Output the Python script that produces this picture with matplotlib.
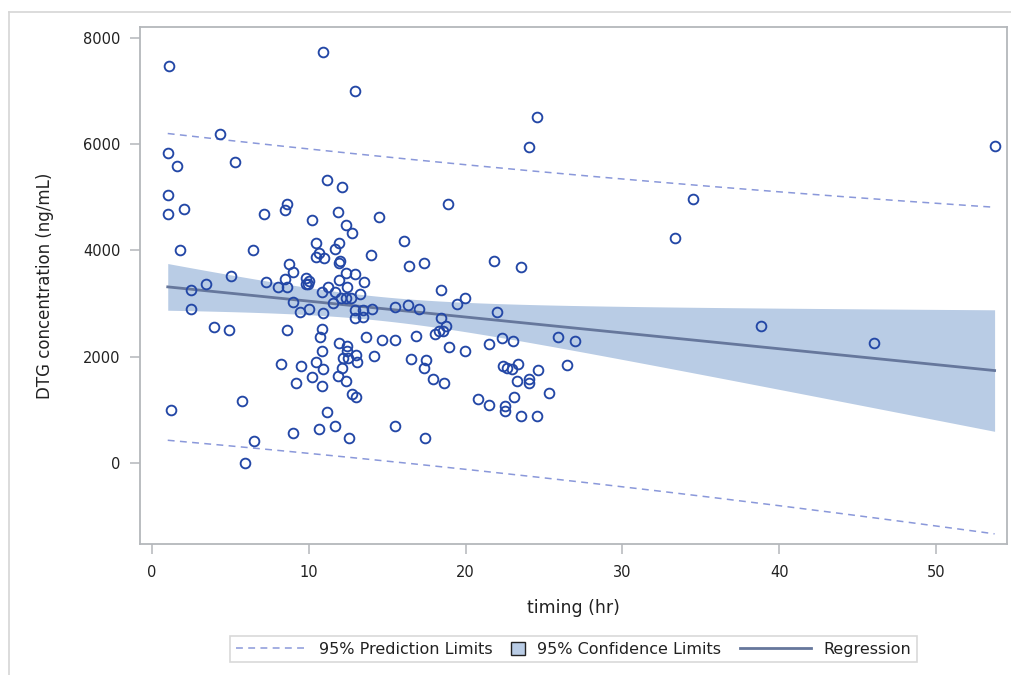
import numpy as np
import matplotlib
matplotlib.use("Agg")
import matplotlib.pyplot as plt
import matplotlib.patches as mpatches
from matplotlib.lines import Line2D
from matplotlib.legend_handler import HandlerPatch

# ---------------- data ----------------
timing_hr = [
    1.12, 10.94, 12.98, 4.35, 1.02, 1.63, 5.29, 11.15, 12.15, 1.02,
    1.02, 2.04, 7.18, 8.60, 8.51, 10.22, 11.85, 12.38, 12.77, 14.49,
    1.80, 6.47, 10.45, 11.96, 11.66, 10.66, 10.45, 10.96, 12.02, 11.96,
    13.98, 8.75, 9.02, 5.07, 3.46, 2.52, 7.30, 8.51, 8.07, 8.62,
    9.81, 10.02, 9.96, 9.81, 10.87, 11.25, 11.96, 12.38, 12.98, 12.47,
    13.51, 11.70, 13.28, 12.08, 12.38, 12.70, 11.57, 9.02, 2.50, 9.45,
    10.04, 10.94, 12.96, 13.49, 12.96, 13.49, 14.06, 15.51, 3.97, 4.95,
    8.62, 10.83, 10.74, 11.96, 12.47, 13.68, 14.70, 15.51, 10.83, 12.47,
    12.21, 12.53, 13.00, 13.08, 14.19, 8.22, 9.53, 10.45, 10.94, 12.15,
    10.22, 11.87, 12.36, 9.22, 10.83, 12.77, 13.02, 5.77, 1.21, 11.15,
    11.66, 10.66, 9.02, 12.57, 15.51, 6.50, 5.97, 16.10, 16.42, 17.34,
    21.80, 23.54, 18.44, 19.97, 19.46, 21.99, 16.33, 17.05, 18.44, 18.76,
    18.05, 18.31, 18.56, 16.82, 18.97, 19.97, 21.48, 22.31, 23.01, 25.87,
    26.98, 16.53, 17.46, 17.33, 17.95, 18.65, 22.41, 22.62, 22.94, 23.32,
    24.64, 26.47, 23.28, 24.03, 24.03, 25.34, 23.11, 20.78, 21.50, 22.52,
    22.52, 23.52, 24.54, 17.44, 24.54, 24.03, 18.86, 53.72, 34.48, 33.35,
    38.83, 46.03,
]
dtg_ng_ml = [
    7470, 7730, 7000, 6190, 5830, 5590, 5670, 5320, 5200, 5040,
    4680, 4780, 4680, 4870, 4760, 4570, 4730, 4470, 4320, 4620,
    4000, 4000, 4140, 4150, 4020, 3950, 3870, 3850, 3800, 3760,
    3920, 3740, 3600, 3530, 3370, 3260, 3410, 3460, 3320, 3310,
    3480, 3430, 3370, 3380, 3220, 3320, 3450, 3570, 3550, 3320,
    3400, 3230, 3180, 3100, 3100, 3100, 3010, 3030, 2900, 2850,
    2900, 2820, 2880, 2880, 2730, 2760, 2900, 2930, 2560, 2510,
    2510, 2530, 2370, 2270, 2210, 2370, 2320, 2320, 2110, 2110,
    1990, 1990, 2030, 1900, 2010, 1870, 1830, 1910, 1770, 1800,
    1620, 1640, 1540, 1510, 1460, 1310, 1250, 1170, 1010, 960,
    700, 650, 570, 470, 700, 420, 0, 4180, 3700, 3760,
    3810, 3690, 3260, 3100, 3000, 2850, 2980, 2900, 2740, 2580,
    2430, 2480, 2480, 2400, 2190, 2110, 2240, 2350, 2300, 2380,
    2300, 1960, 1940, 1800, 1590, 1510, 1840, 1800, 1770, 1870,
    1750, 1850, 1540, 1590, 1520, 1330, 1250, 1220, 1090, 1080,
    990, 890, 890, 470, 6500, 5950, 4880, 5960, 4960, 4240,
    2580, 2270,
]
x_ticks = [0, 10, 20, 30, 40, 50]
y_ticks = [0, 2000, 4000, 6000, 8000]
x_label = "timing (hr)"
y_label = "DTG concentration (ng/mL)"
legend_labels = ["95% Prediction Limits", "95% Confidence Limits", "Regression"]

# ---------------- colours / style ----------------
C_MARK = "#2347a6"
C_BAND = "#b9cce5"
C_FIT = "#66779c"
C_PRED = "#8a98da"
C_FRAME = "#b4b7bb"
C_TEXT = "#222222"

plt.rcParams["font.family"] = ["DejaVu Sans"]

# ---------------- regression (ordinary least squares) ----------------
x = np.asarray(timing_hr, float)
y = np.asarray(dtg_ng_ml, float)
n = len(x)
b1, b0 = np.polyfit(x, y, 1)
resid = y - (b0 + b1 * x)
dof = n - 2
s = np.sqrt(np.sum(resid ** 2) / dof)
z = 1.959964
tq = z + (z ** 3 + z) / (4 * dof) + (5 * z ** 5 + 16 * z ** 3 + 3 * z) / (96 * dof ** 2)
xs = np.linspace(x.min(), x.max(), 300)
fit = b0 + b1 * xs
sxx = np.sum((x - x.mean()) ** 2)
se_mean = s * np.sqrt(1.0 / n + (xs - x.mean()) ** 2 / sxx)
se_pred = s * np.sqrt(1.0 + 1.0 / n + (xs - x.mean()) ** 2 / sxx)

# ---------------- figure ----------------
W, H = 1011, 675
fig = plt.figure(figsize=(W / 100, H / 100), dpi=100)

# outer light border (top and left visible)
fig.add_artist(Line2D([9 / W, 9 / W], [0, 1 - 12 / H], transform=fig.transFigure,
                      color="#d6d6d6", lw=1.2))
fig.add_artist(Line2D([9 / W, 1], [1 - 12 / H, 1 - 12 / H], transform=fig.transFigure,
                      color="#d6d6d6", lw=1.2))

L, R, T, B = 139.5, 1007.3, 26.7, 544.0
ax = fig.add_axes([L / W, 1 - B / H, (R - L) / W, (B - T) / H])

ax.fill_between(xs, fit - tq * se_mean, fit + tq * se_mean, color=C_BAND, lw=0, zorder=1)
ax.plot(xs, fit - tq * se_pred, color=C_PRED, lw=1.1, ls=(0, (4.5, 3.5)), zorder=2)
ax.plot(xs, fit + tq * se_pred, color=C_PRED, lw=1.1, ls=(0, (4.5, 3.5)), zorder=2)
ax.plot(xs, fit, color=C_FIT, lw=2.0, zorder=3)
ax.plot(x, y, ls="none", marker="o", ms=7.0, mfc="none", mec=C_MARK, mew=1.35, zorder=4)

ax.set_xlim(-0.78, 54.53)
ax.set_ylim(-1512, 8203)
ax.set_xticks(x_ticks)
ax.set_yticks(y_ticks)
ax.set_xticklabels([str(v) for v in x_ticks])
ax.set_yticklabels([str(v) for v in y_ticks])
for sp in ax.spines.values():
    sp.set_color(C_FRAME)
    sp.set_linewidth(1.3)
ax.tick_params(axis="both", direction="out", length=7, width=1.1, color=C_FRAME,
               labelsize=10.5, labelcolor=C_TEXT)
ax.tick_params(axis="x", pad=8)
ax.tick_params(axis="y", pad=6.5)
ax.set_xlabel(x_label, fontsize=12.5, color=C_TEXT, labelpad=14)
ax.set_ylabel(y_label, fontsize=12, color=C_TEXT, labelpad=21)


# ---------------- legend ----------------
def square_patch(legend, orig_handle, xdescent, ydescent, width, height, fontsize):
    sz = 9.5
    return mpatches.Rectangle((-xdescent, -ydescent + (height - sz) / 2), sz, sz)


h_pred = Line2D([], [], color=C_PRED, lw=1.1, ls=(0, (4.5, 3.5)))
h_band = mpatches.Patch(facecolor=C_BAND, edgecolor="#222222", lw=1.0)
h_fit = Line2D([], [], color=C_FIT, lw=2.0)
leg = fig.legend([h_pred, h_band, h_fit], legend_labels, ncol=3,
                 loc="center", bbox_to_anchor=(573.4 / W, 1 - 649.4 / H),
                 fontsize=11.5, frameon=True, fancybox=False, edgecolor="#cfcfcf",
                 handlelength=4.4, handletextpad=0.8, columnspacing=1.2,
                 borderpad=0.35, borderaxespad=0,
                 handler_map={h_band: HandlerPatch(patch_func=square_patch)})
leg.get_frame().set_linewidth(1.2)
for t in leg.get_texts():
    t.set_color(C_TEXT)
try:
    entries = []
    for col in leg._legend_handle_box.get_children():
        entries.extend(col.get_children())
    da = entries[1].get_children()[0]
    da.width = 9.5
except Exception:
    pass

fig.savefig("out.png", dpi=100)
